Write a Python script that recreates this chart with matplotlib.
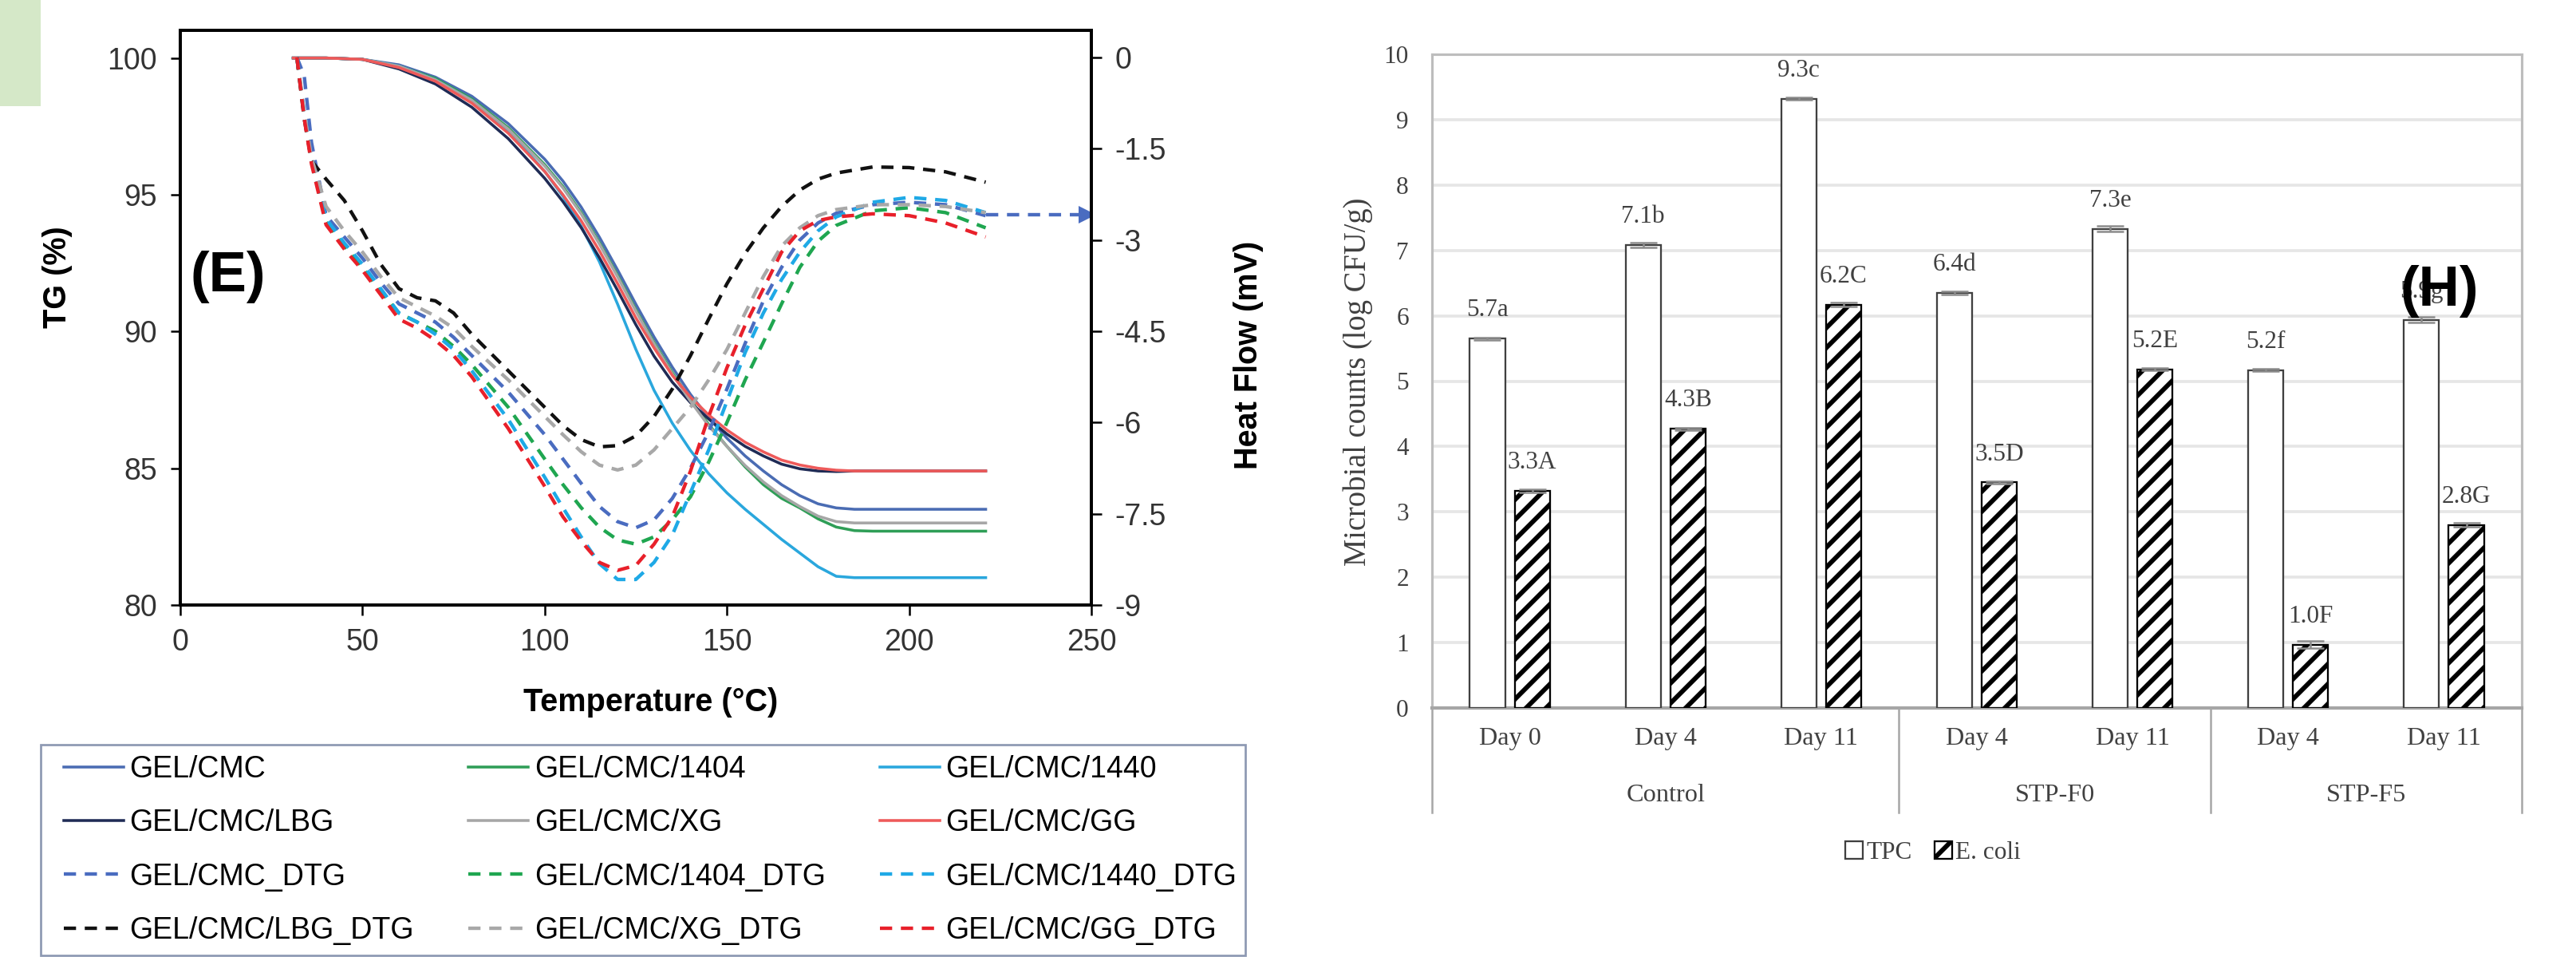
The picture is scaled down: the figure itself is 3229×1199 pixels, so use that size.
import numpy as np
import matplotlib
matplotlib.use("Agg")
import matplotlib.pyplot as plt
from matplotlib.patches import Rectangle, Patch

W, H, DPI = 3229, 1199, 150
plt.rcParams['hatch.linewidth'] = 2.8

# ---------------- (E) TG / heat flow data ----------------
tg_temp = [31, 40, 50, 60, 70, 80, 90, 100, 105, 110, 115, 120, 125, 130, 135, 140, 145,
           150, 155, 160, 165, 170, 175, 180, 185, 190, 200, 210, 221]
tg_cmc = [100, 100, 99.95, 99.75, 99.3, 98.6, 97.6, 96.3, 95.5, 94.55, 93.45, 92.25, 91.0, 89.8,
          88.7, 87.7, 86.85, 86.1, 85.45, 84.9, 84.4, 84.0, 83.7, 83.55, 83.5, 83.5, 83.5, 83.5, 83.5]
tg_1404 = [100, 100, 99.95, 99.7, 99.25, 98.5, 97.45, 96.1, 95.3, 94.35, 93.25, 92.05, 90.8, 89.6,
           88.5, 87.5, 86.6, 85.8, 85.05, 84.4, 83.9, 83.55, 83.15, 82.85, 82.72, 82.7, 82.7, 82.7, 82.7]
tg_1440 = [100, 100, 99.95, 99.7, 99.2, 98.45, 97.35, 95.85, 94.95, 93.85, 92.55, 91.0, 89.35, 87.85,
           86.65, 85.65, 84.8, 84.1, 83.5, 82.95, 82.4, 81.9, 81.4, 81.05, 81.0, 81.0, 81.0, 81.0, 81.0]
tg_lbg = [100, 100, 99.95, 99.6, 99.05, 98.2, 97.05, 95.6, 94.75, 93.8, 92.7, 91.5, 90.25, 89.1,
          88.15, 87.4, 86.8, 86.25, 85.8, 85.45, 85.15, 84.98, 84.9, 84.88, 84.9, 84.9, 84.9, 84.9, 84.9]
tg_xg = [100, 100, 99.95, 99.7, 99.2, 98.45, 97.4, 96.05, 95.25, 94.3, 93.2, 92.0, 90.75, 89.55,
         88.45, 87.45, 86.55, 85.8, 85.1, 84.5, 84.0, 83.6, 83.25, 83.05, 83.0, 83.0, 83.0, 83.0, 83.0]
tg_gg = [100, 100, 99.95, 99.65, 99.15, 98.35, 97.25, 95.85, 95.0, 94.05, 92.95, 91.75, 90.5, 89.4,
         88.4, 87.6, 86.95, 86.4, 85.95, 85.6, 85.3, 85.12, 85.0, 84.93, 84.9, 84.9, 84.9, 84.9, 84.9]

dtg_temp = [32, 34, 36, 40, 45, 50, 55, 60, 65, 70, 75, 80, 90, 100, 105, 110, 115, 120, 125, 130,
            135, 140, 145, 150, 155, 160, 165, 170, 175, 180, 190, 200, 210, 221]
dtg_cmc = [0, -0.3, -1.4, -2.6, -2.95, -3.3, -3.7, -4.05, -4.2, -4.35, -4.6, -4.9, -5.5, -6.2, -6.6,
           -7.0, -7.38, -7.63, -7.73, -7.6, -7.25, -6.75, -6.15, -5.45, -4.7, -4.0, -3.45, -3.0,
           -2.72, -2.56, -2.42, -2.38, -2.42, -2.6]
dtg_1404 = [0, -0.95, -1.7, -2.7, -3.1, -3.45, -3.85, -4.2, -4.35, -4.5, -4.75, -5.05, -5.75, -6.6,
            -7.02, -7.4, -7.72, -7.93, -8.0, -7.88, -7.6, -7.22, -6.65, -6.0, -5.3, -4.68, -4.05,
            -3.45, -3.02, -2.76, -2.52, -2.47, -2.55, -2.8]
dtg_1440 = [0, -0.9, -1.7, -2.65, -3.05, -3.4, -3.8, -4.2, -4.35, -4.55, -4.8, -5.15, -5.95, -6.9,
            -7.4, -7.88, -8.32, -8.58, -8.58, -8.3, -7.85, -7.15, -6.45, -5.65, -4.85, -4.2, -3.65,
            -3.2, -2.85, -2.62, -2.38, -2.3, -2.35, -2.55]
dtg_lbg = [0, -1.0, -1.7, -2.0, -2.35, -2.85, -3.4, -3.8, -3.95, -4.0, -4.2, -4.55, -5.15, -5.75,
           -6.05, -6.28, -6.4, -6.38, -6.22, -5.9, -5.45, -4.9, -4.3, -3.72, -3.22, -2.8, -2.45,
           -2.18, -2.0, -1.9, -1.8, -1.81, -1.88, -2.05]
dtg_xg = [0, -0.9, -1.65, -2.45, -2.85, -3.2, -3.6, -3.95, -4.1, -4.25, -4.45, -4.75, -5.3, -5.9,
          -6.2, -6.48, -6.7, -6.78, -6.7, -6.45, -6.1, -5.75, -5.3, -4.8, -4.2, -3.6, -3.1, -2.8,
          -2.6, -2.5, -2.42, -2.42, -2.45, -2.55]
dtg_gg = [0, -1.0, -1.75, -2.75, -3.15, -3.5, -3.9, -4.3, -4.45, -4.65, -4.9, -5.25, -6.1, -7.05,
          -7.55, -7.95, -8.3, -8.43, -8.35, -8.0, -7.55, -6.8, -5.9, -5.1, -4.4, -3.8, -3.2, -2.85,
          -2.68, -2.62, -2.57, -2.6, -2.72, -2.95]
arrow_temp = [221, 249]
arrow_mv = -2.58

tg_names = ['GEL/CMC', 'GEL/CMC/1404', 'GEL/CMC/1440', 'GEL/CMC/LBG', 'GEL/CMC/XG', 'GEL/CMC/GG']
tg_series = [tg_cmc, tg_1404, tg_1440, tg_lbg, tg_xg, tg_gg]
tg_colors = ['#4a6cb3', '#2f9e57', '#2aa7dd', '#1f2b55', '#a6a6a6', '#ee5a5a']
dtg_names = ['GEL/CMC_DTG', 'GEL/CMC/1404_DTG', 'GEL/CMC/1440_DTG',
             'GEL/CMC/LBG_DTG', 'GEL/CMC/XG_DTG', 'GEL/CMC/GG_DTG']
dtg_series = [dtg_cmc, dtg_1404, dtg_1440, dtg_lbg, dtg_xg, dtg_gg]
dtg_colors = ['#4a6cc0', '#1fa650', '#1fa9e6', '#111111', '#a8a8a8', '#e8202a']

# ---------------- (H) microbial counts ----------------
days = ['Day 0', 'Day 4', 'Day 11', 'Day 4', 'Day 11', 'Day 4', 'Day 11']
groups = ['Control', 'STP-F0', 'STP-F5']
group_sizes = [3, 2, 2]
tpc = [5.65, 7.08, 9.32, 6.35, 7.33, 5.17, 5.94]
tpc_err = [0.02, 0.04, 0.02, 0.02, 0.04, 0.02, 0.04]
tpc_labels = ['5.7a', '7.1b', '9.3c', '6.4d', '7.3e', '5.2f', '5.9g']
ecoli = [3.32, 4.27, 6.17, 3.45, 5.18, 0.97, 2.80]
ecoli_err = [0.02, 0.02, 0.03, 0.02, 0.02, 0.05, 0.03]
ecoli_labels = ['3.3A', '4.3B', '6.2C', '3.5D', '5.2E', '1.0F', '2.8G']

fig = plt.figure(figsize=(W / DPI, H / DPI), dpi=DPI)
fig.add_artist(Rectangle((0, 1 - 133 / H), 51 / W, 133 / H, transform=fig.transFigure,
                         color='#d5e8c8', lw=0))

# ================= left panel =================
sans = 'Liberation Sans'
ax = fig.add_axes([226 / W, 1 - 758 / H, 1142 / W, 720.3 / H])
ax2 = ax.twinx()
handles = {}
for name, ys, c in zip(tg_names, tg_series, tg_colors):
    handles[name], = ax.plot(tg_temp, ys, color=c, lw=1.7, label=name)
for name, ys, c in zip(dtg_names, dtg_series, dtg_colors):
    handles[name], = ax2.plot(dtg_temp, ys, color=c, lw=2.1, ls=(0, (3.5, 2.5)), label=name)
ax2.plot(arrow_temp, [arrow_mv, arrow_mv], color='#4a6cc0', lw=2.1, ls=(0, (3.5, 2.5)))
ax2.plot(arrow_temp[1], arrow_mv, marker='>', ms=11, color='#4a6cc0', mew=0)

ax.set_xlim(0, 250)
ax.set_ylim(80, 101.02)
ax2.set_ylim(-9, 0.45)
ax.set_xticks(range(0, 251, 50))
ax.set_yticks(range(80, 101, 5))
ax2.set_yticks([0, -1.5, -3, -4.5, -6, -7.5, -9])
ax2.set_yticklabels(['0', '-1.5', '-3', '-4.5', '-6', '-7.5', '-9'])
for a in (ax, ax2):
    for s in a.spines.values():
        s.set_linewidth(1.8)
        s.set_color('black')
    a.tick_params(direction='out', length=6, width=1.2, labelsize=18, labelcolor='#333333',
                  pad=8)
    for lab in a.get_xticklabels() + a.get_yticklabels():
        lab.set_family(sans)

fig.text(72 / W, 1 - 347 / H, 'TG (%)', rotation=90, ha='center', va='center',
         fontsize=19, fontweight='bold', family=sans)
fig.text(1565 / W, 1 - 445 / H, 'Heat Flow (mV)', rotation=90, ha='center', va='center',
         fontsize=19, fontweight='bold', family=sans)
fig.text(816 / W, 1 - 880 / H, 'Temperature (\u00b0C)', ha='center', va='center',
         fontsize=19, fontweight='bold', family=sans)
fig.text(239 / W, 1 - 347 / H, '(E)', ha='left', va='center', fontsize=34,
         fontweight='bold', family=sans)

# legend box drawn by hand, entries laid out inside it
fig.add_artist(Rectangle((51 / W, 1 - 1197 / H), 1510 / W, 264 / H, transform=fig.transFigure,
                         facecolor='white', edgecolor='#8d99b3', lw=1.3, zorder=1))
order = ['GEL/CMC', 'GEL/CMC/LBG', 'GEL/CMC_DTG', 'GEL/CMC/LBG_DTG',
         'GEL/CMC/1404', 'GEL/CMC/XG', 'GEL/CMC/1404_DTG', 'GEL/CMC/XG_DTG',
         'GEL/CMC/1440', 'GEL/CMC/GG', 'GEL/CMC/1440_DTG', 'GEL/CMC/GG_DTG']
leg = fig.legend([handles[n] for n in order], order, ncol=3, loc='center',
                 bbox_to_anchor=(80 / W, 1 - 1197 / H, 1470 / W, 264 / H), mode='expand',
                 borderaxespad=0, prop=dict(family=sans, size=18), handlelength=2.0,
                 handletextpad=0.2, labelspacing=0.83, borderpad=0, frameon=False)
leg.set_zorder(2)

# ================= right panel =================
serif = 'Liberation Serif'
txt = '#404040'
bx = fig.add_axes([1795 / W, 1 - 887 / H, 1366 / W, 819 / H])
x = np.arange(len(days))
off, bw = 0.144, 0.226
err_kw = dict(ecolor='#8c8c8c', capsize=8, elinewidth=1.2, capthick=1.2)
bx.bar(x - off, tpc, bw, yerr=tpc_err, color='white', edgecolor='#404040', lw=1.1,
       error_kw=err_kw, zorder=3)
bx.bar(x + off, ecoli, bw, yerr=ecoli_err, color='white', edgecolor='black', hatch='//',
       lw=1.1, error_kw=err_kw, zorder=3)
for xs, vals, labs in ((x - off, tpc, tpc_labels), (x + off, ecoli, ecoli_labels)):
    for xi, v, s in zip(xs, vals, labs):
        bx.annotate(s, (xi, v), xytext=(0, 10), textcoords='offset points', ha='center',
                    va='bottom', fontsize=15, family=serif, color=txt)

bx.set_xlim(-0.5, len(days) - 0.5)
bx.set_ylim(0, 10)
bx.set_yticks(range(0, 11))
bx.set_xticks([])
bx.set_axisbelow(True)
bx.yaxis.grid(True, color='#e6e6e6', lw=1.8)
bx.tick_params(axis='y', length=0, pad=14, labelsize=15, labelcolor=txt)
for lab in bx.get_yticklabels():
    lab.set_family(serif)
for s in bx.spines.values():
    s.set_color('#bdbdbd')
    s.set_linewidth(1.5)
bx.spines['bottom'].set_color('#a6a6a6')
bx.spines['bottom'].set_linewidth(2)

xt = bx.get_xaxis_transform()
for xi, d in zip(x, days):
    bx.text(xi, -0.047, d, transform=xt, ha='center', va='center', fontsize=15.5,
            family=serif, color=txt)
bounds = np.concatenate([[0], np.cumsum(group_sizes)]) - 0.5
for b in bounds:
    bx.plot([b, b], [0, -0.16], transform=xt, clip_on=False, color='#a6a6a6', lw=1.2)
for g, lo, hi in zip(groups, bounds[:-1], bounds[1:]):
    bx.text((lo + hi) / 2, -0.134, g, transform=xt, ha='center', va='center', fontsize=15.5,
            family=serif, color=txt)

fig.text(1702 / W, 1 - 478 / H, 'Microbial counts (log CFU/g)', rotation=90, ha='center',
         va='center', fontsize=18.5, family=serif, color=txt)
fig.legend([Patch(facecolor='white', edgecolor='#404040', lw=1.1),
            Patch(facecolor='white', edgecolor='black', hatch='//', lw=1.1)],
           ['TPC', 'E. coli'], ncol=2, loc='center', bbox_to_anchor=(2423 / W, 1 - 1068 / H),
           frameon=False, prop=dict(family=serif, size=15), handlelength=0.7,
           handleheight=0.7, handletextpad=0.15, columnspacing=0.9, labelcolor=txt)
fig.text(3058 / W, 1 - 365 / H, '(H)', ha='center', va='center', fontsize=34,
         fontweight='bold', family=sans)

fig.savefig('out.png', dpi=DPI)
